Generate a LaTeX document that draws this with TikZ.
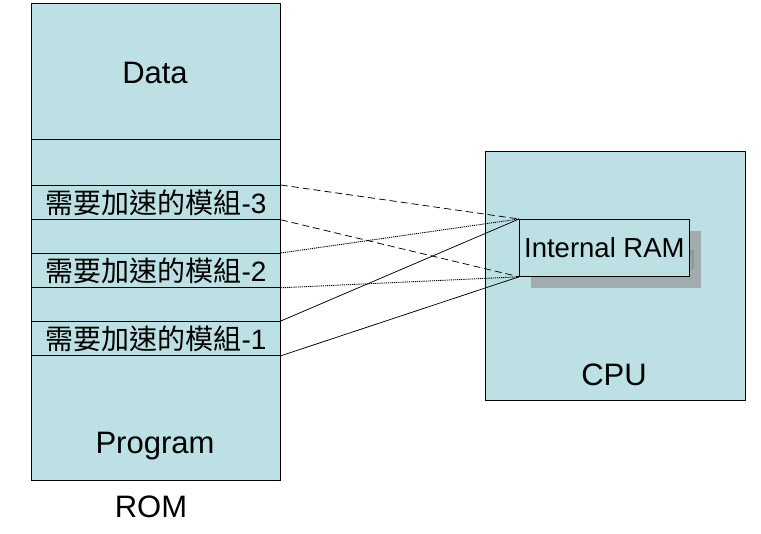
\documentclass[tikz,border=0pt]{standalone}
\usepackage{fontspec}
\setmainfont{Liberation Sans}
\newfontfamily\cjk{Noto Sans CJK TC}
\definecolor{boxfill}{RGB}{188,224,227}
\definecolor{shadowfill}{RGB}{160,172,173}
\definecolor{shadowtext}{RGB}{140,150,151}
\begin{document}
\begin{tikzpicture}[x=1pt,y=-1pt,
  seg/.style={draw=black, line width=0.8pt, fill=boxfill, inner sep=0pt,
    minimum width=249pt, anchor=north west},
  big/.style={font=\fontsize{31}{34}\selectfont, inner sep=0pt},
  mid/.style={font=\fontsize{28}{30}\selectfont, inner sep=0pt},
  ramfont/.style={font=\fontsize{27.5}{30}\selectfont},
  conn/.style={line width=0.75pt}]
\useasboundingbox (0,0) rectangle (761,534);
% ROM segments
\node[seg, minimum height=136pt] (data) at (31,3) {};
\node[seg, minimum height=46pt] (gapa) at (31,139) {};
\node[seg, minimum height=34pt] (mthree) at (31,185) {};
\node[seg, minimum height=34pt] (gapb) at (31,219) {};
\node[seg, minimum height=34pt] (mtwo) at (31,253) {};
\node[seg, minimum height=34pt] (gapc) at (31,287) {};
\node[seg, minimum height=34pt] (mone) at (31,321) {};
\node[seg, minimum height=125pt] (prog) at (31,355) {};
\node[big] (datatext) at (155,73) {Data};
\node[mid] (t3) at (156,203) {{\cjk 需要加速的模組}-3};
\node[mid] (t2) at (156,271) {{\cjk 需要加速的模組}-2};
\node[mid] (t1) at (156,339) {{\cjk 需要加速的模組}-1};
\node[big] (progtext) at (155,446) {Program};
\node[big] (romtext) at (151,507) {ROM};
% CPU
\node[draw=black, line width=0.8pt, fill=boxfill, minimum width=260pt, minimum height=249pt, anchor=north west, inner sep=0pt] (cpu) at (485,151) {};
\node[big] (cputext) at (614,375) {CPU};
% Internal RAM shadow and box
\node[fill=shadowfill, minimum width=170pt, minimum height=57pt, anchor=north west, inner sep=0pt, text=shadowtext, ramfont] (ramshadow) at (531,231) {Internal RAM};
\node[draw=black, line width=0.8pt, fill=boxfill, minimum width=170pt, minimum height=57pt, anchor=north west, inner sep=0pt, ramfont] (ram) at (519,219) {Internal RAM};
% connectors
\draw[conn, dash pattern=on 7pt off 4pt] (mthree.north east) -- (ram.north west);
\draw[conn, dash pattern=on 7pt off 4pt] (mthree.south east) -- (ram.south west);
\draw[conn, line width=0.9pt, dash pattern=on 1.2pt off 0.9pt] (mtwo.north east) -- (ram.north west);
\draw[conn, line width=0.9pt, dash pattern=on 1.2pt off 0.9pt] (mtwo.south east) -- (ram.south west);
\draw[conn] (mone.north east) -- (ram.north west);
\draw[conn] (mone.south east) -- (ram.south west);
\end{tikzpicture}
\end{document}
